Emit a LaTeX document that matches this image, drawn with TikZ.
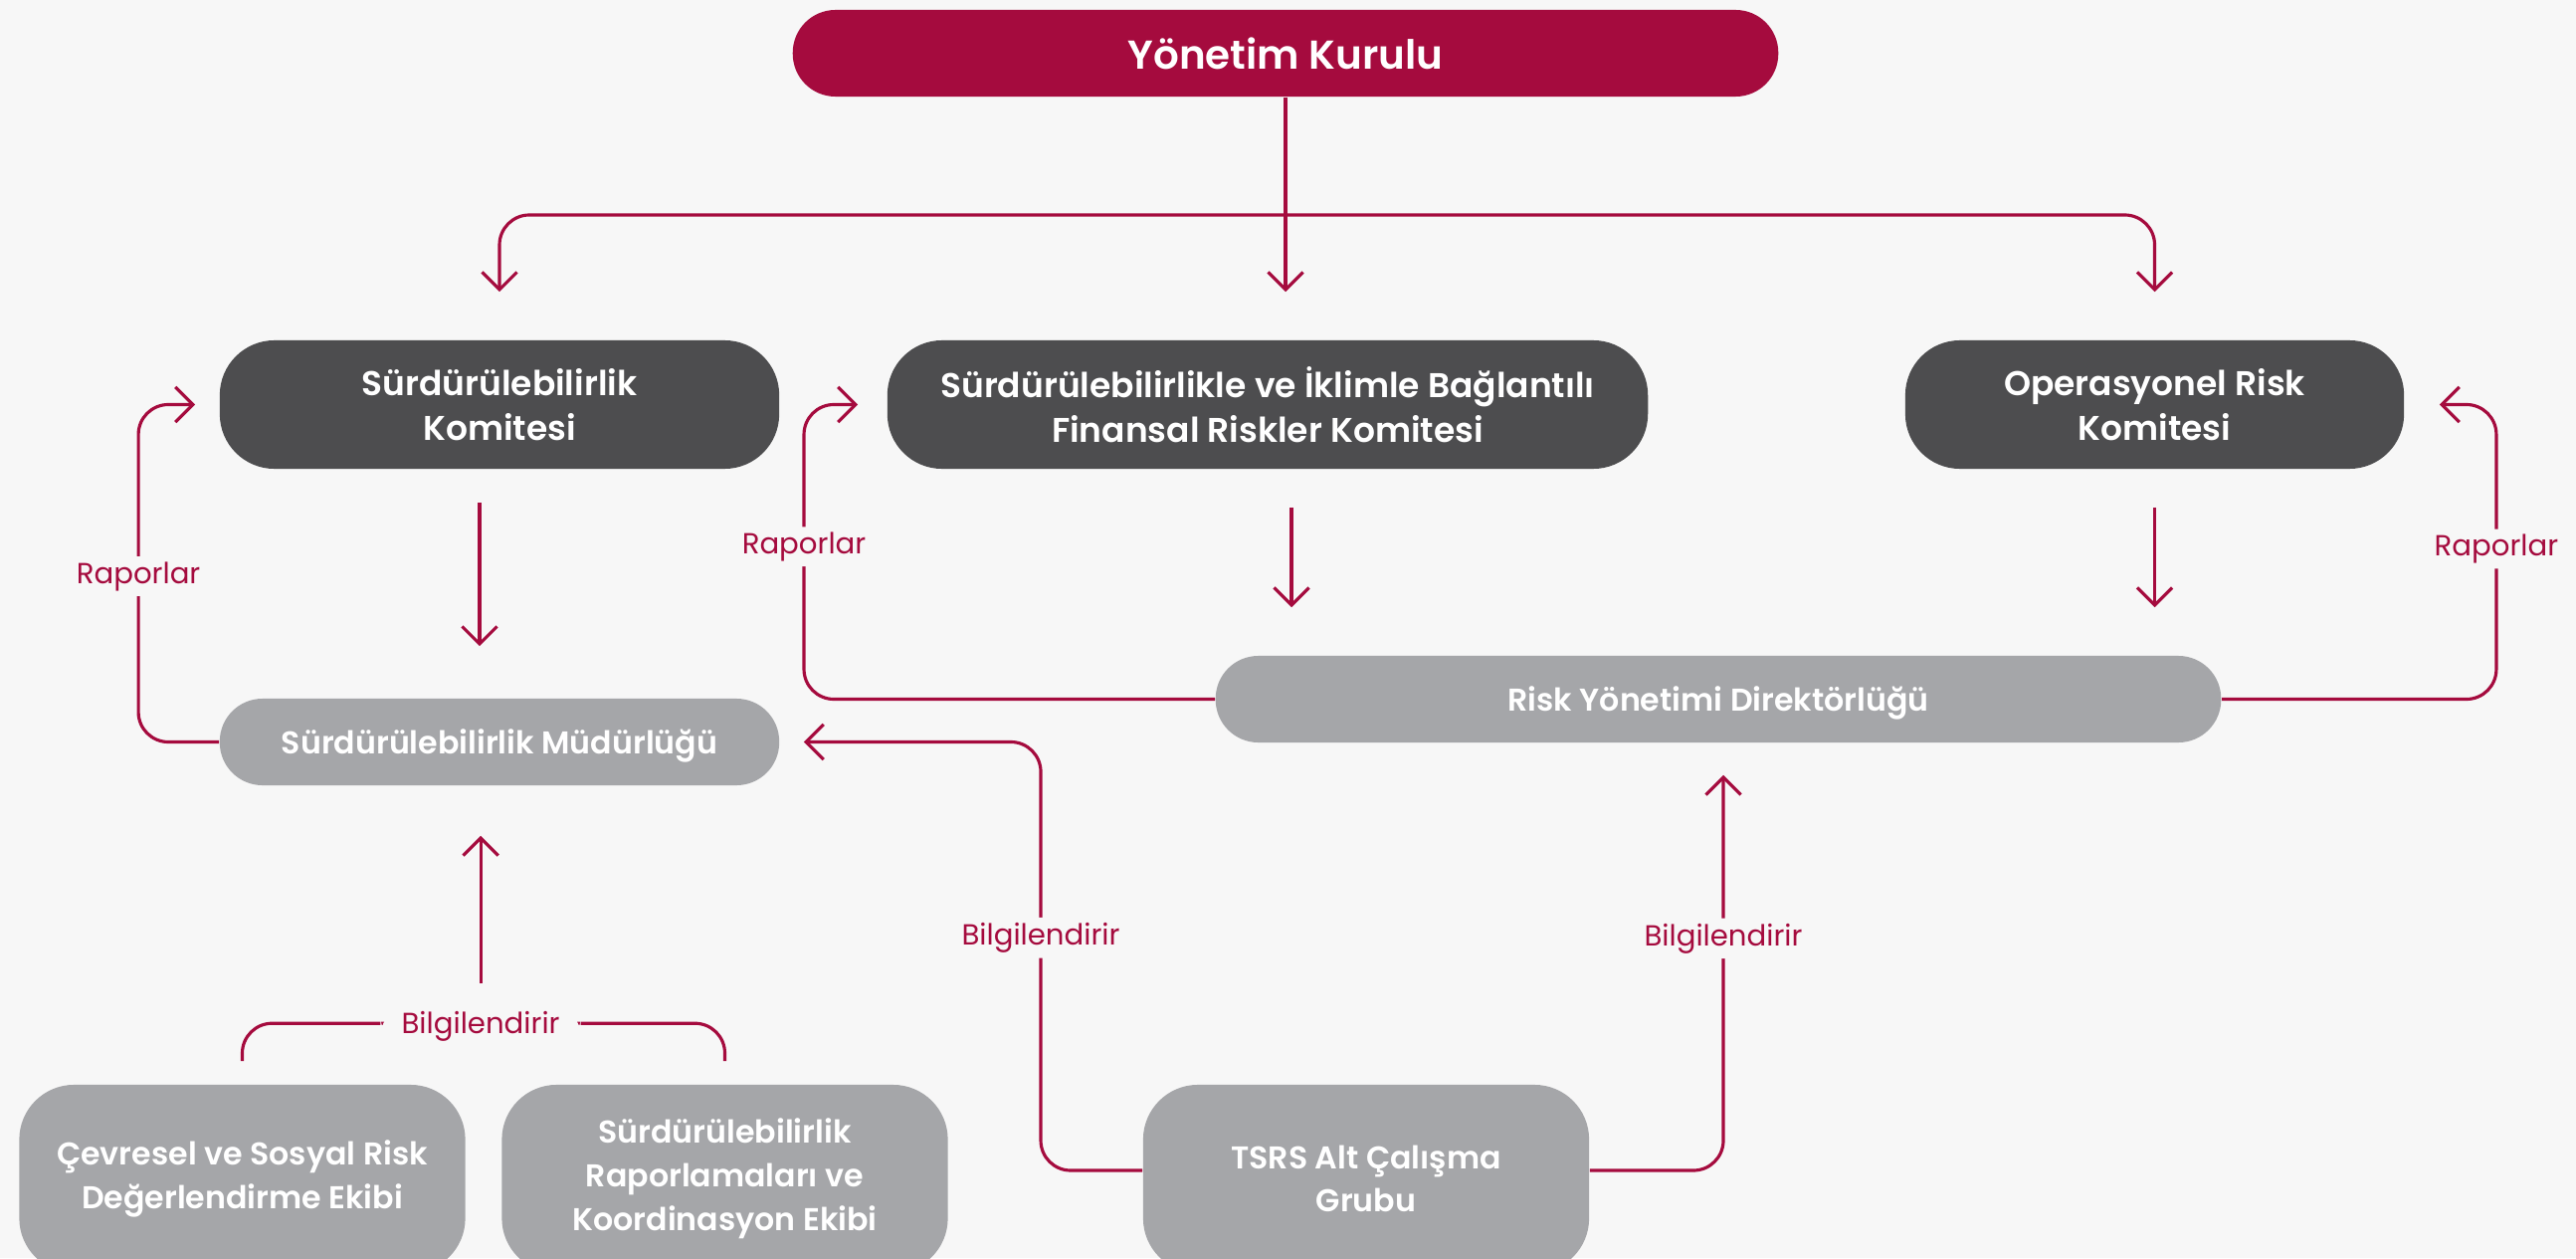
\documentclass[tikz,border=0pt]{standalone}
\usepackage{fontspec}
\setmainfont{Poppins}[BoldFont={Poppins SemiBold}]
\usetikzlibrary{arrows.meta}
\definecolor{crim}{HTML}{A50B3E}
\definecolor{darkbox}{HTML}{4D4D4F}
\definecolor{greybox}{HTML}{A5A6A9}
\definecolor{bgcol}{HTML}{F7F7F7}
\begin{document}
\begin{tikzpicture}[x=0.01cm,y=-0.01cm,
 box/.style={rectangle,text=white,align=center,inner sep=0pt,font=\fontsize{9}{12.45}\selectfont\bfseries},
 pill/.style={box,rounded corners=0.43cm,minimum height=0.87cm,text depth=0pt},
 tall/.style={box,fill=darkbox,rounded corners=0.55cm,minimum height=1.29cm,font=\fontsize{9.8}{12.7}\selectfont\bfseries},
 team/.style={box,fill=greybox,rounded corners=0.55cm,minimum height=1.89cm,minimum width=4.48cm},
 wire/.style={crim,line width=0.9pt,rounded corners=0.3cm},
 link/.style={wire,-{Straight Barb[length=5pt,width=10pt]}},
 tag/.style={fill=bgcol,text=crim,inner xsep=6pt,inner ysep=1.5pt,yshift=-0.03cm,font=\fontsize{8.3}{10}\selectfont}]
\useasboundingbox (0,0) rectangle (2589,1264);
\fill[bgcol] (0,0) rectangle (2589,1264);

\node[pill,fill=crim,minimum width=9.9cm,font=\fontsize{11.5}{14}\selectfont\bfseries] (yk) at (1292,53.5) {Yönetim Kurulu};
\node[tall,minimum width=5.62cm] (sk) at (502,406.5) {Sürdürülebilirlik\\Komitesi};
\node[tall,minimum width=7.64cm] (fk) at (1274,406.5) {Sürdürülebilirlikle ve İklimle Bağlantılı\\Finansal Riskler Komitesi};
\node[tall,minimum width=5.01cm] (ork) at (2165.5,406.5) {Operasyonel Risk\\Komitesi};
\node[pill,fill=greybox,minimum width=5.62cm] (sm) at (502,745.5) {Sürdürülebilirlik Müdürlüğü};
\node[pill,fill=greybox,minimum width=10.1cm] (ryd) at (1727,702.5) {Risk Yönetimi Direktörlüğü};
\node[team] (cev) at (243.5,1184.5) {Çevresel ve Sosyal Risk\\Değerlendirme Ekibi};
\node[team] (rap) at (728.5,1184.5) {Sürdürülebilirlik\\Raporlamaları ve\\Koordinasyon Ekibi};
\node[team] (tsrs) at (1373,1184.5) {TSRS Alt Çalışma\\Grubu};

\coordinate (bus) at (1292,216);
\draw[link,shorten >=0.48cm] (yk.south) -- (yk.south |- fk.north);
\draw[link,shorten >=0.48cm] (bus) -| (sk.north);
\draw[link,shorten >=0.48cm] (bus) -| (ork.north);

\draw[link,shorten <=0.33cm,shorten >=0.52cm] ([xshift=-0.2cm]sk.south) -- ([xshift=-0.2cm]sm.north);
\draw[link,shorten <=0.38cm,shorten >=0.48cm] ([xshift=0.24cm]fk.south) -- ([xshift=0.24cm]fk.south |- ryd.north);
\draw[link,shorten <=0.38cm,shorten >=0.48cm] (ork.south) -- (ork.south |- ryd.north);

\draw[link] (sm.west) -| ([xshift=-0.81cm]sk.west) node[tag,pos=0.75] {Raporlar} -- ([xshift=-0.24cm]sk.west);
\draw[link] (ryd.west) -| ([xshift=-0.83cm]fk.west) node[tag,pos=0.764] {Raporlar} -- ([xshift=-0.29cm]fk.west);
\draw[link] (ryd.east) -| ([xshift=0.92cm]ork.east) node[tag,pos=0.76] {Raporlar} -- ([xshift=0.35cm]ork.east);

\draw[link] (tsrs.west |- 0,1176) -| ([xshift=2.62cm]sm.east) node[tag,pos=0.775] {Bilgilendirir} -- ([xshift=0.24cm]sm.east);
\draw[link,shorten >=0.32cm] (tsrs.east |- 0,1176) -| ([xshift=0.05cm]ryd.south) node[tag,pos=0.775] {Bilgilendirir};

\draw[wire] ([yshift=0.23cm]cev.north) |- ([yshift=0.61cm]rap.north) node[tag,pos=0.747] (inf) {Bilgilendirir} -- ([yshift=0.23cm]rap.north);
\draw[link,shorten <=0.43cm,shorten >=0.5cm] (inf.center) -- (inf.center |- sm.south);
\end{tikzpicture}
\end{document}
